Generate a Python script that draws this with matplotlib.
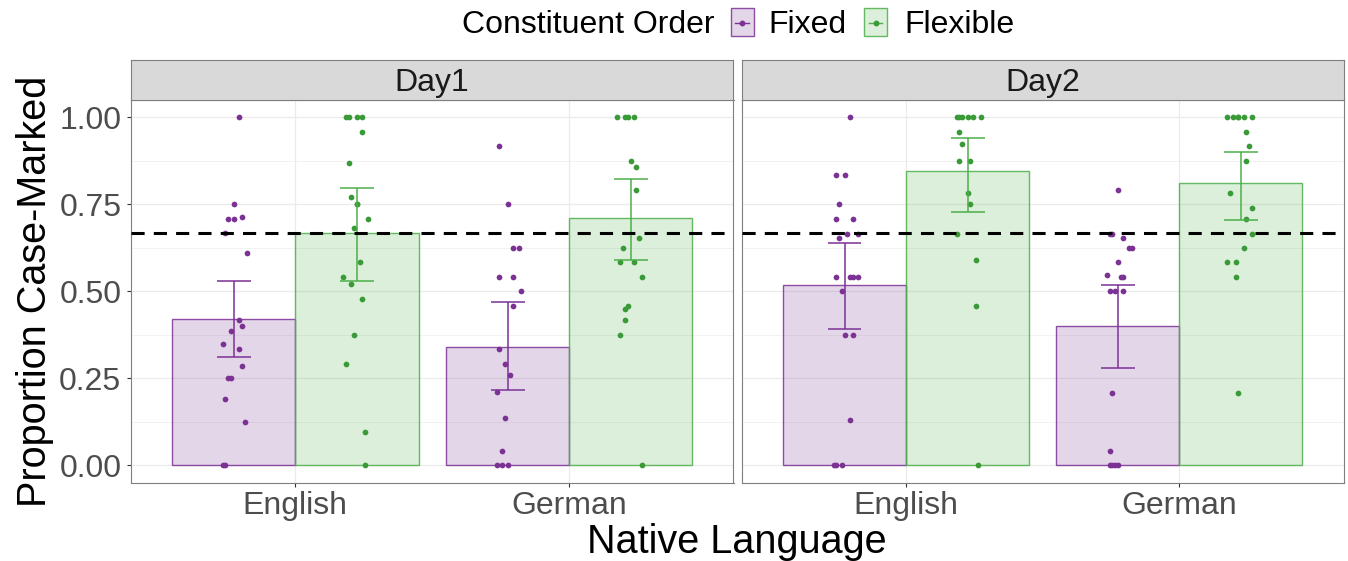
import matplotlib
matplotlib.use('Agg')
import matplotlib.pyplot as plt
from matplotlib.patches import Rectangle
from matplotlib.lines import Line2D
from matplotlib.colors import to_rgba

plt.rcParams['font.family'] = ['Liberation Sans', 'DejaVu Sans']

# ---------------- data ----------------
languages = ['English', 'German']
days = ['Day1', 'Day2']
orders = ['Fixed', 'Flexible']
y_ticks = [0.0, 0.25, 0.5, 0.75, 1.0]
y_tick_labels = ['0.00', '0.25', '0.50', '0.75', '1.00']
chance_level = 0.667

# bar means and CI (per language: English, German)
day1_fixed_mean = [0.42, 0.339]
day1_fixed_lo = [0.31, 0.216]
day1_fixed_hi = [0.53, 0.47]
day1_flex_mean = [0.669, 0.711]
day1_flex_lo = [0.53, 0.591]
day1_flex_hi = [0.798, 0.824]
day2_fixed_mean = [0.518, 0.40]
day2_fixed_lo = [0.391, 0.28]
day2_fixed_hi = [0.64, 0.517]
day2_flex_mean = [0.845, 0.81]
day2_flex_lo = [0.728, 0.704]
day2_flex_hi = [0.94, 0.901]

# individual participant points (values) and their horizontal jitter
d1_en_fixed = [1.0, 0.75, 0.709, 0.709, 0.715, 0.667, 0.609, 0.417, 0.40, 0.385, 0.35,
               0.333, 0.286, 0.25, 0.25, 0.19, 0.125, 0.0, 0.0]
d1_en_fixed_jit = [0.02, 0.0, -0.02, 0.0, 0.03, -0.03, 0.05, 0.02, 0.03, -0.01, -0.04,
                   0.02, 0.03, -0.02, -0.01, -0.03, 0.04, -0.04, -0.03]
d1_en_flex = [1.0, 1.0, 1.0, 1.0, 0.958, 0.87, 0.772, 0.75, 0.75, 0.709, 0.682, 0.583,
              0.542, 0.522, 0.478, 0.375, 0.292, 0.096, 0.0]
d1_en_flex_jit = [-0.04, -0.03, 0.0, 0.02, 0.02, -0.03, -0.02, 0.0, 0.0, 0.04, -0.01, 0.01,
                  -0.05, -0.02, 0.02, -0.01, -0.04, 0.03, 0.03]
d1_de_fixed = [0.917, 0.75, 0.625, 0.625, 0.542, 0.542, 0.5, 0.459, 0.334, 0.292, 0.261,
               0.211, 0.137, 0.042, 0.0, 0.0, 0.0]
d1_de_fixed_jit = [-0.03, 0.0, 0.02, 0.04, -0.03, 0.02, 0.05, 0.02, -0.03, -0.01, 0.01,
                   -0.04, -0.01, -0.02, -0.04, -0.02, 0.0]
d1_de_flex = [1.0, 1.0, 1.0, 1.0, 0.875, 0.856, 0.792, 0.652, 0.625, 0.583, 0.583, 0.542,
              0.458, 0.45, 0.417, 0.375, 0.0]
d1_de_flex_jit = [-0.05, -0.02, -0.01, 0.01, 0.0, 0.02, 0.02, 0.03, -0.03, -0.04, 0.01, 0.04,
                  -0.01, -0.02, -0.02, -0.04, 0.04]
d2_en_fixed = [1.0, 0.833, 0.833, 0.75, 0.709, 0.709, 0.666, 0.666, 0.652, 0.542, 0.542,
               0.542, 0.542, 0.5, 0.375, 0.375, 0.13, 0.0, 0.0, 0.0]
d2_en_fixed_jit = [0.02, -0.03, 0.0, -0.02, -0.03, 0.03, 0.01, 0.05, -0.02, -0.03, 0.02,
                   0.03, 0.05, -0.01, 0.0, 0.03, 0.02, -0.04, -0.03, -0.01]
d2_en_flex = [1.0, 1.0, 1.0, 1.0, 1.0, 1.0, 0.959, 0.923, 0.875, 0.875, 0.783, 0.75,
              0.666, 0.591, 0.459, 0.0]
d2_en_flex_jit = [-0.04, -0.03, -0.02, 0.0, 0.02, 0.05, -0.03, -0.02, -0.03, 0.01, 0.0, 0.01,
                  -0.04, 0.03, 0.03, 0.04]
d2_de_fixed = [0.792, 0.666, 0.666, 0.652, 0.625, 0.625, 0.583, 0.546, 0.542, 0.542, 0.5,
               0.5, 0.5, 0.209, 0.042, 0.0, 0.0, 0.0, 0.0]
d2_de_fixed_jit = [0.0, -0.03, -0.02, 0.02, 0.04, 0.05, 0.0, -0.04, 0.01, 0.02, -0.03,
                   -0.01, 0.02, -0.02, -0.03, -0.03, -0.02, -0.01, 0.0]
d2_de_flex = [1.0, 1.0, 1.0, 1.0, 1.0, 1.0, 0.959, 0.917, 0.875, 0.783, 0.739, 0.709,
              0.666, 0.625, 0.583, 0.583, 0.542, 0.209]
d2_de_flex_jit = [-0.05, -0.03, -0.01, -0.01, 0.01, 0.04, 0.02, 0.03, 0.02, -0.04, 0.04, 0.02,
                  0.04, 0.01, -0.05, -0.02, -0.02, -0.01]

# ---------------- styling ----------------
col_fixed = '#7B3294'
col_flex = '#4DAF4A'
pt_fixed = '#7B3294'
pt_flex = '#3A9A37'
grid_col = '#EBEBEB'
border_col = '#7F7F7F'
tick_lab_col = '#4D4D4D'

W, H = 1348, 561
fig = plt.figure(figsize=(W / 100, H / 100), dpi=100)

def fx(px):
    return px / W

def fy(py):
    return 1 - py / H

panel_x = [(131, 733.5), (742, 1343.5)]
top_px, bot_px, strip_top = 100, 482.7, 59.5
bw = 0.45
xpos = [1, 2]

panel_data = [
    dict(fm=day1_fixed_mean, flo=day1_fixed_lo, fhi=day1_fixed_hi,
         xm=day1_flex_mean, xlo=day1_flex_lo, xhi=day1_flex_hi,
         pts=[(d1_en_fixed, d1_en_fixed_jit, d1_en_flex, d1_en_flex_jit),
              (d1_de_fixed, d1_de_fixed_jit, d1_de_flex, d1_de_flex_jit)]),
    dict(fm=day2_fixed_mean, flo=day2_fixed_lo, fhi=day2_fixed_hi,
         xm=day2_flex_mean, xlo=day2_flex_lo, xhi=day2_flex_hi,
         pts=[(d2_en_fixed, d2_en_fixed_jit, d2_en_flex, d2_en_flex_jit),
              (d2_de_fixed, d2_de_fixed_jit, d2_de_flex, d2_de_flex_jit)]),
]

for i, ((l, r), day, pdat) in enumerate(zip(panel_x, days, panel_data)):
    ax = fig.add_axes([fx(l), fy(bot_px), fx(r) - fx(l), (bot_px - top_px) / H])
    ax.set_xlim(0.4, 2.6)
    ax.set_ylim(-0.05, 1.05)
    # grid
    for yv in y_ticks:
        ax.axhline(yv, color=grid_col, lw=0.9, zorder=0)
    for yv in [0.125, 0.375, 0.625, 0.875]:
        ax.axhline(yv, color=grid_col, lw=0.45, zorder=0)
    for xv in xpos:
        ax.axvline(xv, color=grid_col, lw=0.9, zorder=0)

    xf = [x - bw / 2 for x in xpos]
    xx = [x + bw / 2 for x in xpos]
    ax.bar(xf, pdat['fm'], width=bw, facecolor=to_rgba(col_fixed, 0.2),
           edgecolor=to_rgba(col_fixed, 0.85), lw=1.0, zorder=2)
    ax.bar(xx, pdat['xm'], width=bw, facecolor=to_rgba(col_flex, 0.2),
           edgecolor=to_rgba(col_flex, 0.85), lw=1.0, zorder=2)

    for k, (fv, fj, xv, xj) in enumerate(pdat['pts']):
        ax.scatter([xf[k] + j for j in fj], fv, s=17, color=pt_fixed, lw=0, zorder=3)
        ax.scatter([xx[k] + j for j in xj], xv, s=17, color=pt_flex, lw=0, zorder=3)

    cap = 0.062
    for xs, lo, hi, c in [(xf, pdat['flo'], pdat['fhi'], col_fixed),
                          (xx, pdat['xlo'], pdat['xhi'], col_flex)]:
        ax.vlines(xs, lo, hi, color=c, lw=1.1, zorder=4)
        ax.hlines(lo, [x - cap for x in xs], [x + cap for x in xs], color=c, lw=1.1, zorder=4)
        ax.hlines(hi, [x - cap for x in xs], [x + cap for x in xs], color=c, lw=1.1, zorder=4)

    ax.axhline(chance_level, color='black', lw=2.2, ls=(0, (4.3, 3.0)), zorder=5)

    for sp in ax.spines.values():
        sp.set_color(border_col)
        sp.set_linewidth(0.8)
    ax.set_xticks(xpos)
    ax.set_xticklabels(languages, fontsize=23, color=tick_lab_col)
    ax.tick_params(axis='x', length=3, width=0.8, color='#333333', pad=3)
    ax.set_yticks(y_ticks)
    if i == 0:
        ax.set_yticklabels(y_tick_labels, fontsize=23, color=tick_lab_col)
        ax.tick_params(axis='y', length=3, width=0.8, color='#333333', pad=4)
    else:
        ax.set_yticklabels([])
        ax.tick_params(axis='y', length=0)

    # strip
    sax = fig.add_axes([fx(l), fy(top_px), fx(r) - fx(l), (top_px - strip_top) / H])
    sax.set_facecolor('#D9D9D9')
    sax.set_xticks([])
    sax.set_yticks([])
    for sp in sax.spines.values():
        sp.set_color(border_col)
        sp.set_linewidth(0.8)
    sax.text(0.5, 0.5, day, transform=sax.transAxes, ha='center', va='center_baseline',
             fontsize=23, color='#1A1A1A')

# axis titles
fig.text(fx(737), fy(553), 'Native Language', ha='center', va='baseline', fontsize=28.5)
fig.text(fx(35), fy(291.5), 'Proportion Case-Marked', ha='center', va='center',
         rotation=90, fontsize=28.5)

# legend (manual)
fig.text(fx(462), fy(33), 'Constituent Order', ha='left', va='baseline', fontsize=23)
for (bx, lab, tx, c, pc) in [(730.5, 'Fixed', 768, col_fixed, pt_fixed),
                             (864, 'Flexible', 904, col_flex, pt_flex)]:
    rect = Rectangle((fx(bx), fy(36)), fx(23), 28 / H, transform=fig.transFigure,
                     facecolor=to_rgba(c, 0.2), edgecolor=to_rgba(c, 0.85), lw=1.0)
    fig.add_artist(rect)
    fig.add_artist(Line2D([fx(bx + 5), fx(bx + 18)], [fy(22.5), fy(22.5)],
                          transform=fig.transFigure, color=c, lw=1.0))
    fig.add_artist(Line2D([fx(bx + 11.5)], [fy(22.5)], transform=fig.transFigure,
                          marker='o', markersize=3.2, color=pc, lw=0))
    fig.text(fx(tx), fy(33), lab, ha='left', va='baseline', fontsize=23)

fig.savefig('out.png', dpi=100)
